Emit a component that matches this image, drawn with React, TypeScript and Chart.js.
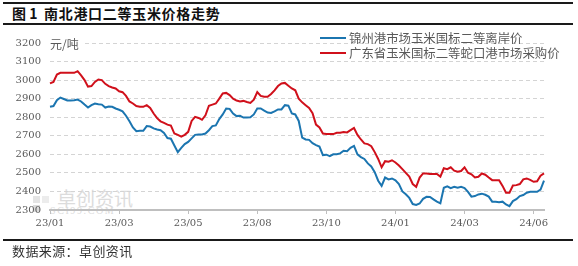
import React, { useEffect, useRef } from 'react';
import { Chart, registerables } from 'chart.js';

Chart.register(...registerables);

const tickLabels = ['23/01', '23/03', '23/05', '23/08', '23/10', '24/01', '24/03', '24/06'];
const tickEvery = 20;
const seriesNames = ['锦州港市场玉米国标二等离岸价', '广东省玉米国标二等蛇口港市场采购价'];
const seriesColors = ['#1B75B0', '#D0101B'];

const jinzhou = [
  2856, 2860, 2892, 2906, 2898, 2890, 2890, 2892, 2895, 2885,
  2868, 2852, 2865, 2874, 2870, 2868, 2852, 2858, 2856, 2847,
  2840, 2832, 2808, 2778, 2745, 2725, 2727, 2727, 2752, 2750,
  2740, 2734, 2730, 2715, 2688, 2684, 2648, 2612, 2635, 2655,
  2667, 2686, 2705, 2707, 2707, 2712, 2730, 2752, 2756, 2790,
  2815, 2847, 2845, 2820, 2806, 2808, 2798, 2798, 2800, 2815,
  2847, 2847, 2836, 2825, 2823, 2832, 2842, 2842, 2865, 2862,
  2820, 2815, 2780, 2690, 2680, 2678, 2660, 2650, 2642, 2596,
  2598, 2590, 2600, 2601, 2605, 2619, 2617, 2635, 2645, 2600,
  2585, 2575, 2551, 2535, 2504, 2458, 2430, 2475, 2465, 2470,
  2460, 2440, 2400, 2385, 2365, 2332, 2327, 2335, 2360, 2371,
  2370, 2357, 2345, 2336, 2420, 2428, 2418, 2425, 2420, 2425,
  2418, 2398, 2372, 2375, 2384, 2388, 2382, 2372, 2345, 2345,
  2342, 2345, 2330, 2321, 2348, 2358, 2375, 2381, 2393, 2398,
  2398, 2398, 2410, 2458,
];

const guangdong = [
  2982, 2990, 3030, 3039, 3039, 3039, 3039, 3039, 3048, 3025,
  3000, 2965, 2968, 2990, 3003, 3000, 2980, 2968, 2960, 2955,
  2940, 2935, 2915, 2885, 2874, 2860, 2856, 2856, 2865, 2850,
  2820, 2795, 2778, 2770, 2760, 2755, 2712, 2705, 2695, 2705,
  2721, 2780, 2802, 2796, 2786, 2810, 2862, 2868, 2874, 2900,
  2928, 2931, 2919, 2900, 2890, 2885, 2888, 2882, 2877, 2895,
  2936, 2915, 2910, 2910, 2925, 2945, 2968, 2982, 2985, 2970,
  2955, 2945, 2900, 2880, 2865, 2850, 2822, 2760, 2745, 2712,
  2709, 2709, 2709, 2716, 2716, 2720, 2718, 2730, 2742, 2705,
  2680, 2659, 2655, 2644, 2612, 2575, 2530, 2563, 2560, 2568,
  2556, 2540, 2520, 2500, 2480, 2440, 2425, 2475, 2497, 2497,
  2494, 2494, 2494, 2480, 2525, 2520, 2530, 2512, 2506, 2510,
  2530, 2501, 2492, 2475, 2479, 2497, 2490, 2475, 2461, 2461,
  2461, 2430, 2393, 2393, 2432, 2434, 2440, 2465, 2470, 2462,
  2452, 2455, 2485, 2497,
];

const yMin = 2300;
const yMax = 3200;
const yStep = 100;

const W = 578;
const H = 266;

export default function App() {
  const ref = useRef<HTMLCanvasElement | null>(null);

  useEffect(() => {
    if (!ref.current) return;
    const labels = jinzhou.map((_, i) =>
      i % tickEvery === 0 ? tickLabels[i / tickEvery] ?? '' : ''
    );
    const tickFont = { family: 'DejaVu Serif', size: 10 };
    const chart = new Chart(ref.current, {
      type: 'line',
      data: {
        labels,
        datasets: [
          {
            label: seriesNames[0],
            data: jinzhou,
            borderColor: seriesColors[0],
            backgroundColor: seriesColors[0],
            borderWidth: 2,
            pointRadius: 0,
            tension: 0,
          },
          {
            label: seriesNames[1],
            data: guangdong,
            borderColor: seriesColors[1],
            backgroundColor: seriesColors[1],
            borderWidth: 2,
            pointRadius: 0,
            tension: 0,
          },
        ],
      },
      options: {
        responsive: false,
        animation: false,
        devicePixelRatio: 1,
        layout: { padding: { left: 0, top: 43, right: 34, bottom: 26 } },
        plugins: {
          legend: { display: false },
          tooltip: { enabled: false },
          title: { display: false },
        },
        scales: {
          x: {
            type: 'category',
            offset: false,
            grid: {
              drawOnChartArea: false,
              drawTicks: true,
              tickLength: 4,
              lineWidth: 1,
              color: (ctx: any) =>
                ctx.index % tickEvery === 0 ? '#bfbfbf' : 'rgba(0,0,0,0)',
            },
            border: { display: true, color: '#bfbfbf', width: 2 },
            ticks: {
              autoSkip: false,
              maxRotation: 0,
              minRotation: 0,
              padding: 3,
              color: '#595959',
              font: tickFont,
              callback: (_v: any, i: number) => labels[i],
            },
            afterFit: (s: any) => {
              s.height = 30;
            },
          },
          y: {
            min: yMin,
            max: yMax,
            ticks: {
              stepSize: yStep,
              padding: 9,
              color: '#595959',
              font: tickFont,
              callback: (v: any) => String(v),
            },
            grid: { color: '#d4d4d4', lineWidth: 1, drawTicks: false },
            border: { display: false, dash: [4, 3] },
            afterFit: (s: any) => {
              s.width = 50;
            },
          },
        },
      },
    } as any);
    return () => chart.destroy();
  }, []);

  const cjk = '"Noto Sans CJK SC", "Noto Sans", sans-serif';

  return (
    <div
      style={{
        position: 'absolute',
        left: 0,
        top: 0,
        width: W,
        height: H,
        background: '#fff',
        overflow: 'hidden',
        fontFamily: cjk,
      }}
    >
      {/* header rules and title */}
      <div style={{ position: 'absolute', left: 3, top: 2, width: 570, height: 2, background: '#1a1a1a' }} />
      <div style={{ position: 'absolute', left: 3, top: 23, width: 570, height: 2, background: '#1a1a1a' }} />
      <div style={{ position: 'absolute', left: 12, top: 3, fontSize: 14, lineHeight: '20px', fontWeight: 'bold', color: '#111', whiteSpace: 'nowrap' }}>
        图 1
      </div>
      <div style={{ position: 'absolute', left: 44, top: 3, fontSize: 14, lineHeight: '20px', fontWeight: 'bold', color: '#111', letterSpacing: 0.7, whiteSpace: 'nowrap' }}>
        南北港口二等玉米价格走势
      </div>

      {/* watermark */}
      <div style={{ position: 'absolute', left: 33, top: 196, width: 7, height: 7, background: '#e4e4e4' }} />
      <div style={{ position: 'absolute', left: 42, top: 196, width: 7, height: 7, background: '#ececec' }} />
      <div style={{ position: 'absolute', left: 33, top: 205, width: 7, height: 7, background: '#dcdcdc' }} />
      <div style={{ position: 'absolute', left: 57, top: 186, fontSize: 19, lineHeight: '24px', color: '#dcdcdc', whiteSpace: 'nowrap' }}>
        卓创资讯
      </div>
      <div style={{ position: 'absolute', left: 50, top: 205, fontSize: 10, lineHeight: '12px', color: '#dcdcdc', letterSpacing: 1.6, fontFamily: '"Liberation Serif", serif', whiteSpace: 'nowrap' }}>
        SCI99.COM
      </div>

      <canvas ref={ref} width={W} height={H} style={{ position: 'absolute', left: 0, top: 0, width: W, height: H }} />

      {/* unit label */}
      <div style={{ position: 'absolute', left: 50, top: 36, fontSize: 12, lineHeight: '16px', color: '#595959', background: '#fff', paddingRight: 3, whiteSpace: 'nowrap' }}>
        元/吨
      </div>

      {/* legend */}
      <div style={{ position: 'absolute', left: 320, top: 37, width: 26, height: 2, background: seriesColors[0] }} />
      <div style={{ position: 'absolute', left: 349, top: 30, fontSize: 12.4, lineHeight: '16px', color: '#595959', whiteSpace: 'nowrap' }}>
        {seriesNames[0]}
      </div>
      <div style={{ position: 'absolute', left: 320, top: 52, width: 26, height: 2, background: seriesColors[1] }} />
      <div style={{ position: 'absolute', left: 349, top: 45, fontSize: 12.4, lineHeight: '16px', color: '#595959', whiteSpace: 'nowrap' }}>
        {seriesNames[1]}
      </div>

      {/* footer */}
      <div style={{ position: 'absolute', left: 3, top: 239, width: 570, height: 2, background: '#1a1a1a' }} />
      <div style={{ position: 'absolute', left: 12, top: 242, fontSize: 13, lineHeight: '18px', color: '#333', letterSpacing: 0.4, whiteSpace: 'nowrap' }}>
        数据来源：卓创资讯
      </div>
    </div>
  );
}
